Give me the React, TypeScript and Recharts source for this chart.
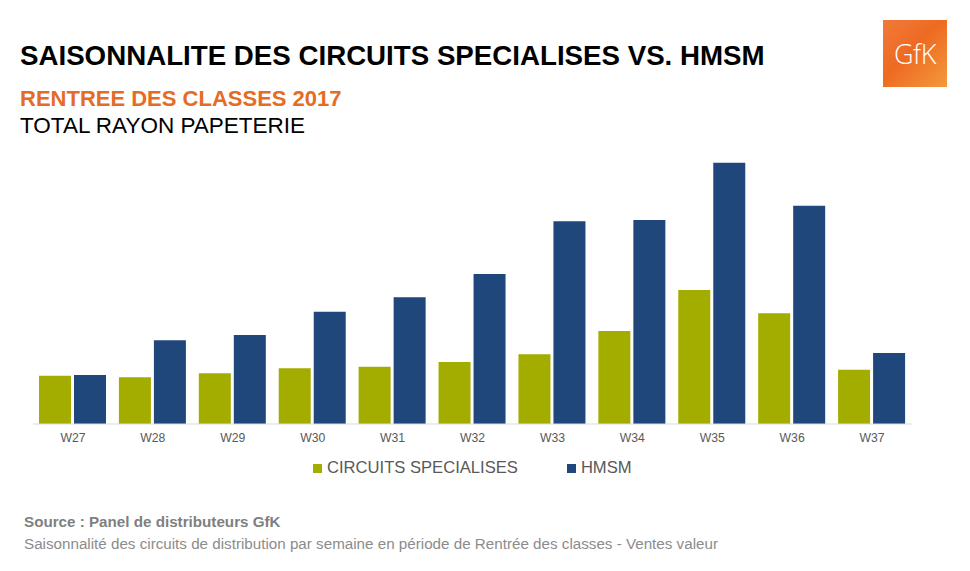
import React from "react";
import { Bar, BarChart, XAxis, YAxis } from "recharts";

const weeks = ["W27", "W28", "W29", "W30", "W31", "W32", "W33", "W34", "W35", "W36", "W37"];
const specialises = [48.3, 46.7, 50.7, 55.7, 57.3, 62, 69.7, 93, 134, 110.7, 54.3];
const hmsm = [49, 83.7, 89, 112.3, 126.7, 150, 202.7, 204, 261.3, 218.3, 71];

const GREEN = "#a3ad00";
const BLUE = "#1f477b";
const FONT = "'Liberation Sans', Arial, sans-serif";

const data = weeks.map((w, i) => ({ week: w, spec: specialises[i], hmsm: hmsm[i] }));

function LegendBox() {
  const item = (color: string, label: string) => (
    <div style={{ display: "flex", alignItems: "center", marginRight: 49 }}>
      <span style={{ width: 9, height: 9, background: color, marginRight: 5, display: "inline-block" }} />
      <span>{label}</span>
    </div>
  );
  return (
    <div style={{ display: "flex", fontFamily: FONT, fontSize: 16.6, color: "#595959" }}>
      {item(GREEN, "CIRCUITS SPECIALISES")}
      {item(BLUE, "HMSM")}
    </div>
  );
}

export default function App() {
  return (
    <div style={{ position: "absolute", left: 0, top: 0, width: 970, height: 571, background: "#fff", fontFamily: FONT }}>
      <div style={{ position: "absolute", left: 20, top: 42, fontSize: 27.7, fontWeight: 700, lineHeight: 1, color: "#000", whiteSpace: "nowrap" }}>
        SAISONNALITE DES CIRCUITS SPECIALISES VS. HMSM
      </div>
      <div style={{ position: "absolute", left: 20, top: 88, fontSize: 22, fontWeight: 700, lineHeight: 1, color: "#e46c24", whiteSpace: "nowrap" }}>
        RENTREE DES CLASSES 2017
      </div>
      <div style={{ position: "absolute", left: 20, top: 115, fontSize: 22.5, lineHeight: 1, color: "#000", whiteSpace: "nowrap" }}>
        TOTAL RAYON PAPETERIE
      </div>

      <div
        style={{
          position: "absolute",
          left: 883,
          top: 20,
          width: 64,
          height: 67,
          background: "linear-gradient(135deg, #f07a3a 0%, #ee6a22 45%, #f39a3c 100%)",
          color: "#fff",
          display: "flex",
          alignItems: "center",
          justifyContent: "center",
          fontFamily: "'Open Sans', sans-serif",
          fontSize: 27,
          fontWeight: 300,
          letterSpacing: -0.5,
        }}
      >
        GfK
      </div>

      <div style={{ position: "absolute", left: 0, top: 0 }}>
        <BarChart
          width={970}
          height={571}
          data={data}
          margin={{ top: 150, right: 58, left: 33, bottom: 117 }}
          barCategoryGap={6}
          barGap={3}
        >
          <XAxis
            dataKey="week"
            tick={{ fill: "#595959", fontSize: 12.2, fontFamily: FONT }}
            tickLine={false}
            tickSize={0}
            tickMargin={9}
            axisLine={{ stroke: "#d9d9d9" }}
            height={30}
          />
          <YAxis hide domain={[0, 274]} />
          <Bar dataKey="spec" name="CIRCUITS SPECIALISES" fill={GREEN} isAnimationActive={false} />
          <Bar dataKey="hmsm" name="HMSM" fill={BLUE} isAnimationActive={false} />
        </BarChart>
      </div>

      <div style={{ position: "absolute", left: 313, top: 458 }}>
        <LegendBox />
      </div>

      <div style={{ position: "absolute", left: 24, top: 513, fontSize: 15.2, fontWeight: 700, color: "#7f7f7f", whiteSpace: "nowrap" }}>
        Source : Panel de distributeurs GfK
      </div>
      <div style={{ position: "absolute", left: 24, top: 535, fontSize: 15.2, color: "#8c8c8c", whiteSpace: "nowrap" }}>
        Saisonnalité des circuits de distribution par semaine en période de Rentrée des classes - Ventes valeur
      </div>
    </div>
  );
}
